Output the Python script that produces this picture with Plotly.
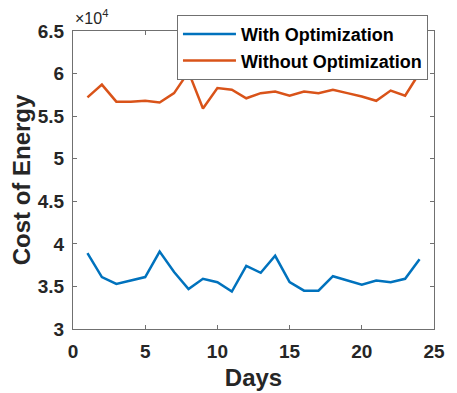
import plotly.graph_objects as go

days = list(range(1, 25))
with_opt = [38900, 36100, 35300, 35700, 36100, 39100, 36700, 34700, 35900, 35500,
            34400, 37400, 36600, 38600, 35500, 34500, 34500, 36200, 35700, 35200,
            35700, 35500, 35900, 38200]
without_opt = [57200, 58700, 56700, 56700, 56800, 56600, 57700, 60200, 55900, 58300,
               58100, 57100, 57700, 57900, 57400, 57900, 57700, 58100, 57700, 57300,
               56800, 58000, 57400, 60100]
y_ticks = [30000, 35000, 40000, 45000, 50000, 55000, 60000, 65000]
y_tick_text = ["3", "3.5", "4", "4.5", "5", "5.5", "6", "6.5"]
x_ticks = [0, 5, 10, 15, 20, 25]

font_family = "Liberation Sans, Arial, sans-serif"

fig = go.Figure()
fig.add_trace(go.Scatter(x=days, y=with_opt, mode="lines", name="With Optimization",
                         line=dict(color="#0072BD", width=2.5)))
fig.add_trace(go.Scatter(x=days, y=without_opt, mode="lines", name="Without Optimization",
                         line=dict(color="#D95319", width=2.5)))

axis_common = dict(showline=True, mirror="allticks", linecolor="#707070", linewidth=1.2,
                   ticks="inside", ticklen=4, tickcolor="#707070", showgrid=False,
                   zeroline=False, automargin=False,
                   tickfont=dict(family=font_family, size=19, color="#262626", weight="bold"))

# the page body has an 8px margin, so margins are shifted to compensate
fig.update_layout(
    width=457, height=393,
    margin=dict(l=65, r=31, t=23, b=72, autoexpand=False),
    paper_bgcolor="white", plot_bgcolor="white",
    font=dict(family=font_family, color="#262626"),
    showlegend=True,
    legend=dict(x=0.288, y=1.054, xanchor="left", yanchor="top",
                bordercolor="#707070", borderwidth=1, bgcolor="white",
                font=dict(family=font_family, size=18, color="black", weight="bold"),
                tracegroupgap=0, itemwidth=53),
    xaxis=dict(range=[0, 25], tickvals=x_ticks, ticklabelstandoff=5,
               title=dict(text="<b>Days</b>", font=dict(size=24, family=font_family, color="#262626"),
                          standoff=8),
               **axis_common),
    yaxis=dict(range=[30000, 65000], tickvals=y_ticks, ticktext=y_tick_text, ticklabelstandoff=4,
               title=dict(text="<b>Cost of Energy</b>", font=dict(size=24, family=font_family, color="#262626"),
                          standoff=10),
               **axis_common),
)

fig.add_annotation(x=0, y=1, xref="paper", yref="paper", xanchor="left", yanchor="bottom",
                   text="\u00d710<sup>4</sup>", showarrow=False, xshift=0, yshift=2,
                   font=dict(family=font_family, size=16, color="#262626"))

fig.write_html("out.html")
